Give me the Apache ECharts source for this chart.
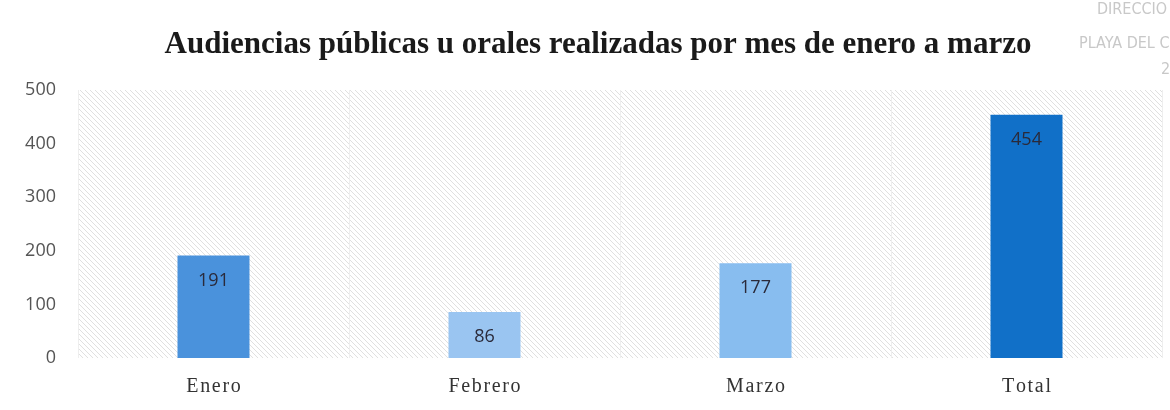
<!DOCTYPE html>
<html><head><meta charset="utf-8">
<script src="https://cdn.jsdelivr.net/npm/echarts@6/dist/echarts.min.js"></script>
<style>html,body{margin:0;padding:0;background:#fff}#c{width:1170px;height:410px}</style>
</head><body><div id="c"></div>
<script>
const categories = ['Enero', 'Febrero', 'Marzo', 'Total'];
const values = [191, 86, 177, 454];
const barColors = ['#4A92DC', '#9AC5F1', '#88BDEF', '#1170C8'];
const yTicks = [0, 100, 200, 300, 400, 500];

// hatch pattern
const pc = document.createElement('canvas');
pc.width = 5; pc.height = 5;
const pctx = pc.getContext('2d');
pctx.fillStyle = '#ffffff'; pctx.fillRect(0,0,5,5);
pctx.strokeStyle = '#e0e0e0'; pctx.lineWidth = 1;
pctx.beginPath();
pctx.moveTo(0,0); pctx.lineTo(5,5);
pctx.moveTo(-2.5,2.5); pctx.lineTo(2.5,7.5);
pctx.moveTo(2.5,-2.5); pctx.lineTo(7.5,2.5);
pctx.stroke();

const chart = echarts.init(document.getElementById('c'));
chart.setOption({
  backgroundColor: '#ffffff',
  title: {
    text: 'Audiencias públicas u orales realizadas por mes de enero a marzo',
    left: 593, top: 24, textAlign: 'center',
    textStyle: { fontFamily: 'Liberation Serif', fontWeight: 'bold', fontSize: 31, color: '#1a1a1a' }
  },
  graphic: [
    { type: 'text', left: 1097, top: 2, style: { text: 'DIRECCIO', fill: '#c8c8c8', font: '16px "DejaVu Sans Condensed"' } },
    { type: 'text', left: 1079, top: 36, style: { text: 'PLAYA DEL C', fill: '#c8c8c8', font: '16px "DejaVu Sans Condensed"' } },
    { type: 'text', left: 1161, top: 62, style: { text: '2', fill: '#c8c8c8', font: '16px "DejaVu Sans Condensed"' } }
  ],
  grid: {
    left: 78, right: 8, top: 90, bottom: 52, show: true,
    backgroundColor: { image: pc, repeat: 'repeat' }, borderWidth: 0
  },
  xAxis: {
    type: 'category', data: categories,
    axisLine: { show: false }, axisTick: { show: false },
    splitLine: { show: true, lineStyle: { color: '#eeeeee', width: 1 } },
    axisLabel: { fontFamily: 'Liberation Serif', fontSize: 20, color: '#333', margin: 19,
      formatter: v => v.split('').join('\u200A') }
  },
  yAxis: {
    type: 'value', min: yTicks[0], max: yTicks[yTicks.length-1], interval: 100,
    axisLine: { show: false }, axisTick: { show: false },
    splitLine: { show: false },
    axisLabel: { fontFamily: 'Open Sans', fontSize: 18, color: '#555', margin: 22 }
  },
  series: [{
    type: 'bar', barWidth: 72,
    data: values.map((v, i) => ({ value: v, itemStyle: { color: barColors[i] } })),
    label: { show: true, position: 'insideTop', distance: 16, fontFamily: 'Open Sans', fontSize: 18, color: '#2a2a3a' }
  }]
});
</script></body></html>
